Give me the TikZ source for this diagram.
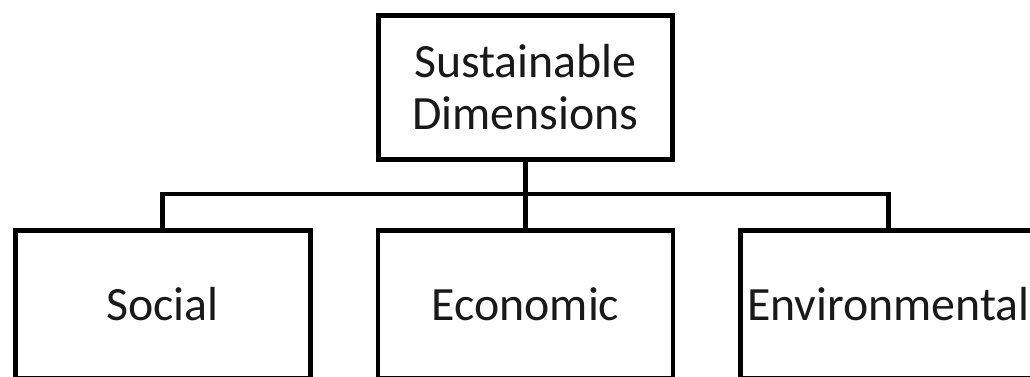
\documentclass[tikz,border=0pt]{standalone}
\usepackage{fontspec}
\setmainfont{Carlito}
\usetikzlibrary{positioning}

\begin{document}
\begin{tikzpicture}[node distance=1.65cm and 1.575cm,
                    box/.style={rectangle,draw=black,line width=3.5pt,
                                minimum width=7.375cm,minimum height=3.6cm,
                                align=center,text=black!90,
                                font=\fontsize{34}{37}\selectfont}]
  \useasboundingbox (0,0) rectangle (25.75,-9.4);

  \node[box,minimum width=7.35cm] (dims) at (13.1375,-2.1875) {Sustainable\\Dimensions};
  \node[box,minimum height=3.7cm,below=of dims] (econ) {Economic};
  \node[box,minimum height=3.7cm,left=of econ] (social) {Social};
  \node[box,minimum height=3.7cm,right=of econ] (env) {Environmental};

  % tree connectors
  \draw[line width=3.5pt] (dims.south) -- ++(0,-0.8) coordinate (bus);
  \draw[line width=3.5pt] (social.north) |- (bus) -| (env.north);
  \draw[line width=3.5pt] (bus) -- (econ.north);
\end{tikzpicture}
\end{document}
